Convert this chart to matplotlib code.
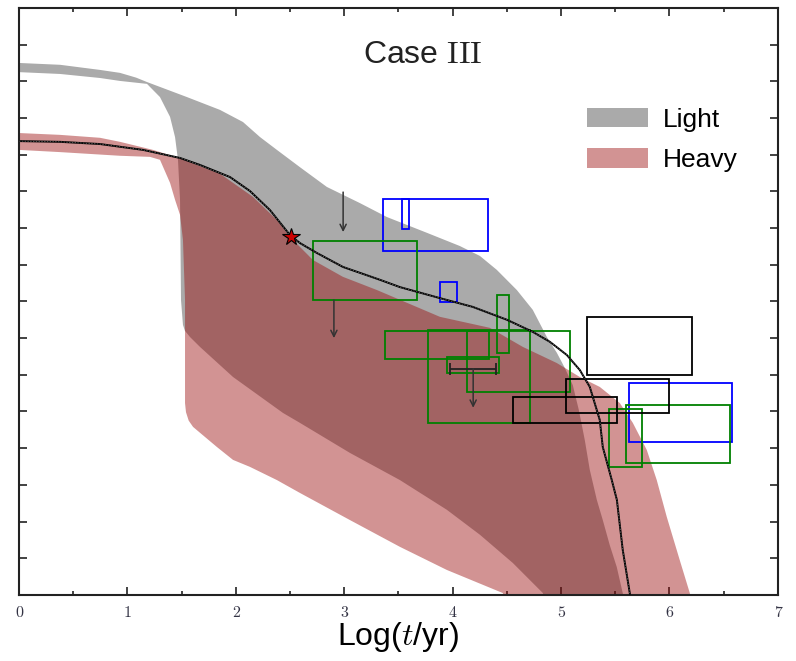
import numpy as np
import matplotlib
matplotlib.use("Agg")
import matplotlib.pyplot as plt
from matplotlib.patches import Rectangle, Patch

plt.rcParams['font.family'] = ['Liberation Sans', 'DejaVu Sans']
plt.rcParams['mathtext.fontset'] = 'cm'

# "Light" band outline (upper edge left->right, then back along lower edge)
light_x = [0.000, 0.378, 0.747, 0.931, 1.080, 1.180, 1.549, 1.854, 2.066, 2.223, 2.379,
           2.591, 2.840, 3.145, 3.394, 3.763, 4.067, 4.252, 4.408, 4.593, 4.740,
           4.870, 4.962, 5.035, 5.109, 5.165, 5.220, 5.266, 5.331, 5.386, 5.450,
           5.515, 5.570, 5.607,
           4.879, 4.833, 4.556, 4.252, 3.947, 3.514, 3.053, 2.591, 2.435, 1.974,
           1.669, 1.577, 1.530, 1.512, 1.494, 1.485, 1.466, 1.439, 1.393, 1.300, 1.180,
           0.931, 0.747, 0.378, 0.000]
light_y = [14.50, 14.45, 14.31, 14.23, 14.10, 13.98, 13.57, 13.22, 12.89, 12.48, 12.13,
           11.66, 11.12, 10.68, 10.30, 9.87, 9.51, 9.24, 8.86, 8.31, 7.77,
           7.03, 6.60, 6.19, 5.72, 5.04, 4.22, 3.41, 2.59, 2.04, 1.36,
           0.76, 0.05, -0.41,
           -0.41, 0.05, 0.87, 1.64, 2.32, 3.13, 3.87, 4.69, 4.96, 5.94,
           6.76, 7.03, 7.20, 7.36, 8.04, 10.77, 11.86, 12.48, 13.03, 13.57, 13.93,
           14.01, 14.09, 14.20, 14.25]

# "Heavy" band outline
heavy_x = [0.000, 0.378, 0.747, 0.931, 1.236, 1.485, 1.854, 2.158, 2.379, 2.499,
           2.711, 2.988, 3.302, 3.883, 4.344, 4.648, 4.962, 5.174, 5.358, 5.543,
           5.663, 5.792, 5.884, 5.976, 6.096, 6.189, 6.216,
           4.482, 4.464, 3.947, 3.514, 3.053, 2.591, 2.379, 2.130, 1.974, 1.826,
           1.669, 1.605, 1.565, 1.540, 1.531, 1.531, 1.512, 1.485, 1.439, 1.393, 1.300,
           1.208, 0.931, 0.378, 0.000]
heavy_y = [12.59, 12.54, 12.46, 12.35, 12.13, 11.90, 11.48, 10.85, 10.22, 9.76,
           9.13, 8.67, 8.31, 7.58, 7.28, 6.76, 6.32, 5.94, 5.67, 5.23,
           4.69, 3.95, 3.13, 2.13, 0.95, 0.05, -0.41,
           -0.41, 0.05, 0.68, 1.31, 2.04, 2.78, 3.13, 3.49, 3.68, 4.03,
           4.42, 4.58, 4.75, 4.98, 5.23, 8.04, 9.68, 10.36, 10.77, 11.23, 11.86,
           11.94, 11.97, 12.07, 12.13]

# evolutionary track
track_x = [0.000, 0.378, 0.747, 1.144, 1.485, 1.669, 1.946, 2.130, 2.315, 2.499,
           2.592, 2.748, 2.988, 3.329, 3.514, 3.883, 4.187, 4.501, 4.740, 4.897,
           5.054, 5.174, 5.266, 5.358, 5.386, 5.469, 5.516, 5.570, 5.635, 5.660]
track_y = [12.37, 12.35, 12.29, 12.13, 11.91, 11.72, 11.39, 11.01, 10.49, 9.81,
           9.59, 9.32, 8.94, 8.59, 8.39, 8.09, 7.85, 7.50, 7.17, 6.90,
           6.54, 6.13, 5.67, 4.77, 4.03, 3.13, 2.59, 1.23, 0.05, -0.40]

star_x, star_y = 2.51, 9.76

# observed boxes: (x0, x1, y0, y1)
blue_boxes = [(3.36, 4.33, 9.38, 10.79), (3.53, 3.60, 9.98, 10.79),
              (3.88, 4.04, 7.99, 8.53), (5.63, 6.58, 4.17, 5.78)]
green_boxes = [(2.71, 3.67, 8.04, 9.65), (4.41, 4.52, 6.60, 8.18),
               (3.38, 4.34, 6.43, 7.20), (3.77, 4.71, 4.69, 7.22),
               (4.13, 5.08, 5.53, 7.20), (3.95, 4.43, 6.05, 6.49),
               (5.44, 5.75, 3.49, 5.07), (5.60, 6.56, 3.60, 5.18)]
black_boxes = [(5.24, 6.21, 6.00, 7.58), (5.05, 6.00, 4.96, 5.89),
               (4.56, 5.52, 4.69, 5.40)]

# upper limits (x, y_from, y_to)
limits = [(2.99, 10.98, 9.89), (2.905, 8.04, 7.00), (4.19, 6.16, 5.10)]
ebar_x, ebar_y, ebar_err = 4.19, 6.16, 0.21

xtick_labels = ['0', '1', '2', '3', '4', '5', '6', '7']

fig, ax = plt.subplots(figsize=(7.96, 6.61), dpi=100)
fig.subplots_adjust(left=0.024, right=0.977, bottom=0.1, top=0.988)

light_col = '#aaaaaa'
heavy_col = (0.6, 0.04, 0.04)
ax.fill(light_x, light_y, color=light_col, lw=0, zorder=1)
ax.fill(heavy_x, heavy_y, color=heavy_col, alpha=0.44, lw=0, zorder=2)

for boxes, col in [(blue_boxes, '#0000ff'), (green_boxes, '#008000'), (black_boxes, 'k')]:
    for x0, x1, y0, y1 in boxes:
        ax.add_patch(Rectangle((x0, y0), x1 - x0, y1 - y0, fill=False,
                               edgecolor=col, lw=1.3, zorder=3))

ax.plot(track_x, track_y, color='k', lw=1.4, zorder=4)
ax.plot(track_x, track_y, color='0.45', lw=0.5, ls=(0, (2.0, 2.0)), zorder=4.1)
ax.plot(star_x, star_y, marker='*', ms=13, mfc='#cc0000', mec='k', mew=0.8, zorder=5)

ax.errorbar(ebar_x, ebar_y, xerr=ebar_err, fmt='none', ecolor='#222222',
            elinewidth=1.3, capsize=4, capthick=1.3, zorder=5)
for lx, ly0, ly1 in limits:
    ax.annotate('', xy=(lx, ly1), xytext=(lx, ly0),
                arrowprops=dict(arrowstyle='->', color='#333333', lw=1.1,
                                shrinkA=0, shrinkB=0, mutation_scale=11),
                zorder=5)

ax.text(3.72, 14.72, r'Case $\mathrm{III}$', fontsize=23, ha='center', va='center',
        color='#222222')

handles = [Patch(color=light_col, lw=0, label='Light'),
           Patch(color=heavy_col, alpha=0.44, lw=0, label='Heavy')]
ax.legend(handles=handles, loc='upper left', bbox_to_anchor=(0.749, 0.830),
          frameon=False, fontsize=19, handlelength=2.3, handleheight=0.75,
          handletextpad=0.55, labelspacing=0.62, borderpad=0, borderaxespad=0)

ax.set_xlim(0, 7)
ax.set_ylim(0, 16)
ax.set_xticks(range(8))
ax.set_xticklabels(xtick_labels, fontfamily='cmr10', fontsize=11.5, color='#333344')
ax.set_xticks(np.arange(0.5, 7, 1.0), minor=True)
ax.set_yticks(range(1, 16))
ax.tick_params(axis='y', labelleft=False)
ax.tick_params(which='both', direction='in', top=True, right=True, width=1.2,
               color='#222222')
ax.tick_params(which='major', length=6, pad=8)
ax.tick_params(which='minor', length=3)
for sp in ax.spines.values():
    sp.set_linewidth(1.5)
    sp.set_color('#222222')

ax.set_xlabel(r'Log($t$/yr)', fontsize=23, labelpad=0)

fig.savefig('out.png', dpi=100)
